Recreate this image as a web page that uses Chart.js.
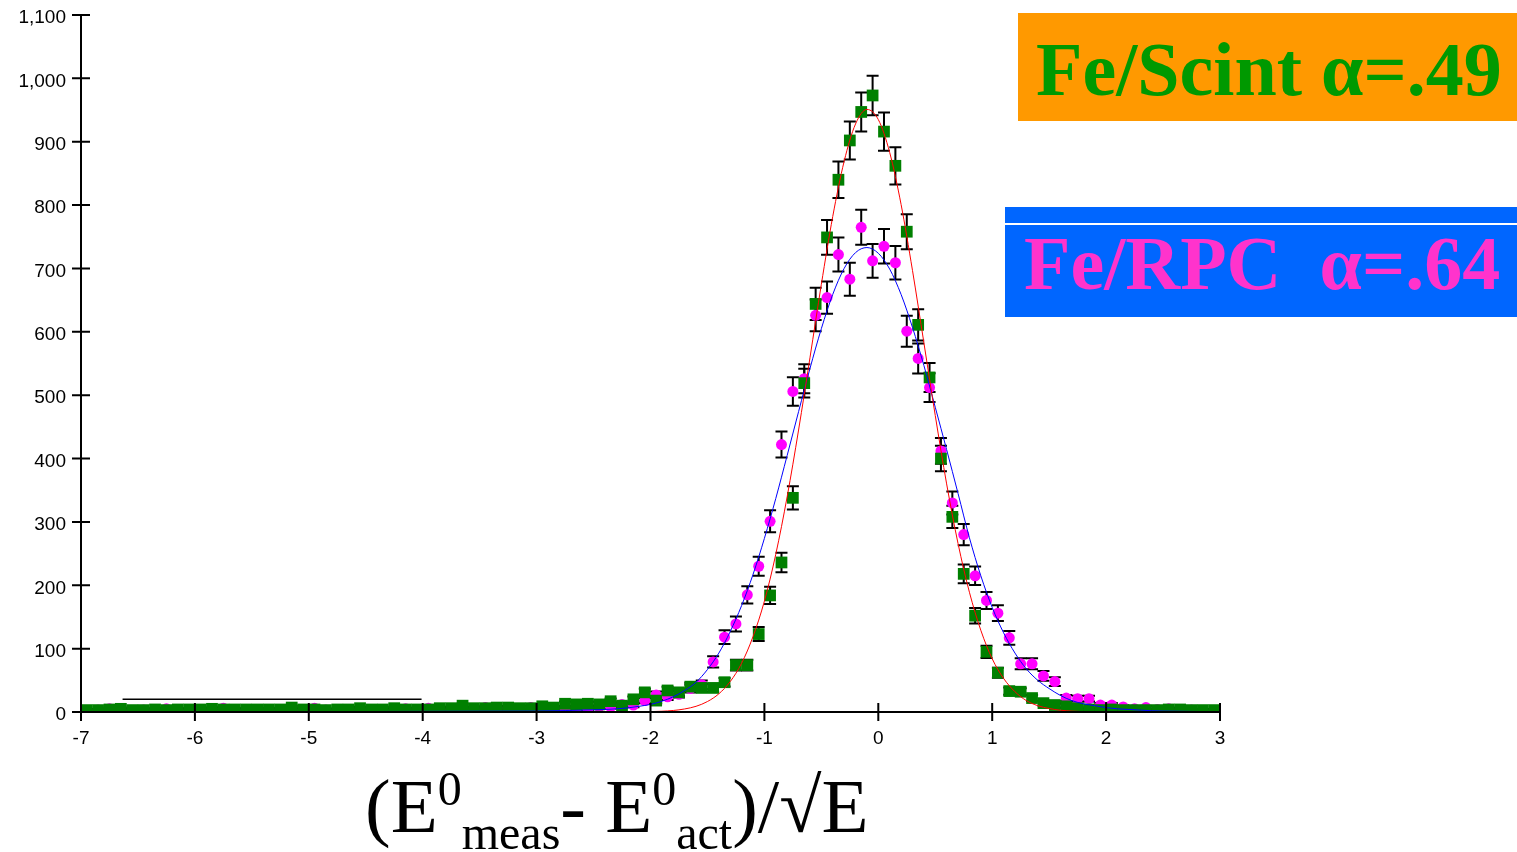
<!DOCTYPE html>
<html>
<head>
<meta charset="utf-8">
<title>Fe/Scint vs Fe/RPC</title>
<script src="https://cdn.jsdelivr.net/npm/chart.js@4.4.0/dist/chart.umd.min.js"></script>
<style>
  html, body { margin: 0; padding: 0; background: #fff; }
  #wrap { position: relative; width: 1517px; height: 852px; overflow: hidden; }
  #chart { position: absolute; left: 0; top: 0; }
  .box { position: absolute; }
  .tag { position: absolute; font-family: "Liberation Serif", "Times New Roman", serif; font-weight: bold;
         font-size: 76px; line-height: 76px; white-space: pre; }
  #xtitle { position: absolute; left: 365px; top: 768px; font-family: "Liberation Serif", "Times New Roman", serif;
            font-size: 77px; line-height: 77px; white-space: pre; color: #000; }
  #xtitle .sup { position: relative; top: -27px; font-size: 48px; }
  #xtitle .sub { position: relative; top: 17px; font-size: 48px; }
</style>
</head>
<body>
<div id="wrap">
  <canvas id="chart" width="1517" height="852"></canvas>

  <div class="box" style="left:1018px;top:13px;width:499px;height:108px;background:#ff9900"></div>
  <div class="tag" style="left:1036px;top:31px;color:#009900">Fe/Scint α=.49</div>

  <div class="box" style="left:1005px;top:207px;width:512px;height:110px;background:#0066ff"></div>
  <div class="box" style="left:1005px;top:223px;width:512px;height:2px;background:#fff"></div>
  <div class="tag" style="left:1024px;top:225px;color:#ff33cc">Fe/RPC  α=.64</div>

  <div id="xtitle">(E<span class="sup">0</span><span class="sub">meas</span>- E<span class="sup">0</span><span class="sub">act</span>)/√E</div>
</div>

<script>
// histogram bins: 100 bins of 0.1 from -7 to 3
const binLow = -7;
const binWidth = 0.1;

// Fe/Scint counts (green squares)
const scintCounts = [
  3, 3, 4, 5, 3, 3, 4, 3, 4, 4,
  4, 5, 4, 4, 4, 4, 4, 4, 7, 4,
  4, 3, 4, 4, 6, 4, 4, 6, 4, 4,
  4, 6, 6, 10, 6, 6, 7, 7, 6, 6,
  9, 7, 13, 12, 13, 12, 17, 10, 20, 31,
  18, 34, 31, 40, 38, 38, 47, 74, 74, 123,
  184, 236, 338, 519, 644, 749, 840, 902, 947, 973,
  916, 862, 758, 611, 528, 400, 308, 218, 152, 95,
  62, 33, 32, 22, 14, 11, 9, 6, 4, 3,
  4, 3, 3, 3, 3, 4, 4, 3, 3, 3
];

// Fe/RPC counts (magenta circles)
const rpcCounts = [
  2, 3, 5, 3, 2, 3, 3, 5, 2, 3,
  3, 2, 6, 3, 3, 2, 3, 3, 4, 3,
  6, 3, 2, 3, 4, 3, 3, 3, 5, 3,
  6, 4, 4, 5, 4, 7, 7, 5, 4, 7,
  5, 6, 4, 6, 4, 8, 8, 12, 11, 18,
  27, 24, 28, 37, 43, 79, 118, 139, 185, 230,
  301, 422, 506, 526, 626, 654, 722, 683, 765, 712,
  735, 709, 601, 558, 512, 412, 330, 280, 215, 176,
  156, 117, 76, 76, 57, 48, 22, 21, 21, 11,
  11, 8, 5, 7, 4, 5, 3, 3, 2, 2
];

// fitted curves
const fitX = [
  -7, -3, -2.5, -2.4, -2.3, -2.2, -2.1, -2.0, -1.9, -1.8, -1.7, -1.6, -1.5, -1.4, -1.3, -1.2, -1.1,
  -1.0, -0.9, -0.8, -0.7, -0.6, -0.5, -0.4, -0.3, -0.2, -0.1, 0.0, 0.1, 0.2, 0.3, 0.4, 0.5,
  0.6, 0.7, 0.8, 0.9, 1.0, 1.1, 1.2, 1.3, 1.4, 1.5, 1.6, 1.7, 1.8, 1.9, 2.0, 2.1, 2.2, 2.3,
  2.4, 2.5, 3
];
const scintFit = [
  0, 0, 0, 0, 0, 0.1, 0.3, 0.6, 1.2, 2.4, 4.8, 9, 16.5, 28.7, 48, 77, 119,
  175, 249, 340, 445, 559, 675, 782, 869, 928, 951, 935, 883, 801, 697, 583, 468,
  360, 266, 189, 129, 84, 53, 32, 18, 10, 5.5, 2.8, 1.4, 0.6, 0.3, 0.1, 0, 0, 0,
  0, 0, 0
];
const rpcFit = [
  0.3, 1.5, 3.5, 4, 5, 6.5, 9, 12, 17, 24, 34, 47, 67, 93, 127, 168, 217,
  274, 337, 405, 474, 542, 605, 659, 700, 725, 733, 724, 699, 659, 607, 547, 481,
  414, 345, 275, 215, 165, 125, 93, 68, 50, 37, 26, 18, 13, 10, 7, 5, 4, 3,
  2, 1.5, 0.5
];

// stray horizontal segment left in the lower-left of the frame
const strayX = [-6.635, -4.01];
const strayY = [20, 20];

const binCenters = scintCounts.map((_, i) => +(binLow + binWidth * (i + 0.5)).toFixed(2));
const toPoints = (xs, ys) => xs.map((x, i) => ({ x: x, y: ys[i] }));

// poisson error bars, drawn behind the markers
const errorBars = {
  id: 'errorBars',
  beforeDatasetsDraw(chart) {
    const { ctx, chartArea: a, scales: { x, y } } = chart;
    ctx.save();
    ctx.beginPath();
    ctx.rect(a.left, a.top, a.width, a.height);
    ctx.clip();
    ctx.strokeStyle = '#000';
    ctx.lineWidth = 2;
    [rpcCounts, scintCounts].forEach(counts => {
      counts.forEach((n, i) => {
        const err = Math.sqrt(n);
        const px = x.getPixelForValue(binCenters[i]);
        const top = y.getPixelForValue(n + err);
        const bot = y.getPixelForValue(n - err);
        ctx.beginPath();
        ctx.moveTo(px, top); ctx.lineTo(px, bot);
        ctx.moveTo(px - 6, top); ctx.lineTo(px + 6, top);
        ctx.moveTo(px - 6, bot); ctx.lineTo(px + 6, bot);
        ctx.stroke();
      });
    });
    ctx.restore();
  }
};

// axis lines with ticks crossing them
const crossAxes = {
  id: 'crossAxes',
  afterDatasetsDraw(chart) {
    const { ctx, chartArea: a, scales: { x, y } } = chart;
    ctx.save();
    ctx.strokeStyle = '#000';
    ctx.lineWidth = 2;
    ctx.beginPath();
    ctx.moveTo(a.left, a.top);
    ctx.lineTo(a.left, a.bottom);
    ctx.lineTo(a.right, a.bottom);
    y.ticks.forEach(t => {
      const py = y.getPixelForValue(t.value);
      ctx.moveTo(a.left - 9, py); ctx.lineTo(a.left + 9, py);
    });
    x.ticks.forEach(t => {
      const px = x.getPixelForValue(t.value);
      ctx.moveTo(px, a.bottom - 9); ctx.lineTo(px, a.bottom + 9);
    });
    ctx.stroke();
    ctx.restore();
  }
};

const tickFont = { family: '"Liberation Sans", Arial, sans-serif', size: 19 };

new Chart(document.getElementById('chart'), {
  type: 'scatter',
  data: {
    datasets: [
      {
        label: 'Fe/Scint fit',
        data: toPoints(fitX, scintFit),
        showLine: true,
        borderColor: '#ff0000',
        borderWidth: 1,
        pointRadius: 0,
        cubicInterpolationMode: 'monotone',
        clip: 0,
        order: 0
      },
      {
        label: 'Fe/RPC fit',
        data: toPoints(fitX, rpcFit),
        showLine: true,
        borderColor: '#0000ff',
        borderWidth: 1,
        pointRadius: 0,
        cubicInterpolationMode: 'monotone',
        clip: 0,
        order: 0
      },
      {
        label: 'Fe/Scint',
        data: toPoints(binCenters, scintCounts),
        pointStyle: 'rect',
        pointRadius: 8.3,
        pointBackgroundColor: '#008000',
        pointBorderWidth: 0,
        clip: 0,
        order: 1
      },
      {
        label: 'Fe/RPC',
        data: toPoints(binCenters, rpcCounts),
        pointStyle: 'circle',
        pointRadius: 5.5,
        pointBackgroundColor: '#ff00ff',
        pointBorderWidth: 0,
        clip: 0,
        order: 2
      },
      {
        label: 'stray',
        data: toPoints(strayX, strayY),
        showLine: true,
        borderColor: '#000',
        borderWidth: 1.5,
        pointRadius: 0,
        order: 3
      }
    ]
  },
  options: {
    responsive: false,
    animation: false,
    events: [],
    locale: 'en-US',
    layout: { padding: { left: 0, top: 15, right: 297, bottom: 0 } },
    plugins: { legend: { display: false }, tooltip: { enabled: false } },
    scales: {
      x: {
        type: 'linear',
        min: -7,
        max: 3,
        afterFit: s => { s.height = 140; s.paddingLeft = 0; s.paddingRight = 0; },
        grid: { display: false, drawTicks: false },
        border: { display: false },
        ticks: { stepSize: 1, padding: 15, color: '#000', font: tickFont, maxRotation: 0, autoSkip: false }
      },
      y: {
        min: 0,
        max: 1100,
        afterFit: s => { s.width = 81; s.paddingTop = 0; s.paddingBottom = 0; },
        grid: { display: false, drawTicks: false },
        border: { display: false },
        ticks: { stepSize: 100, padding: 15, labelOffset: 3, color: '#000', font: tickFont, autoSkip: false }
      }
    }
  },
  plugins: [errorBars, crossAxes]
});
</script>
</body>
</html>
